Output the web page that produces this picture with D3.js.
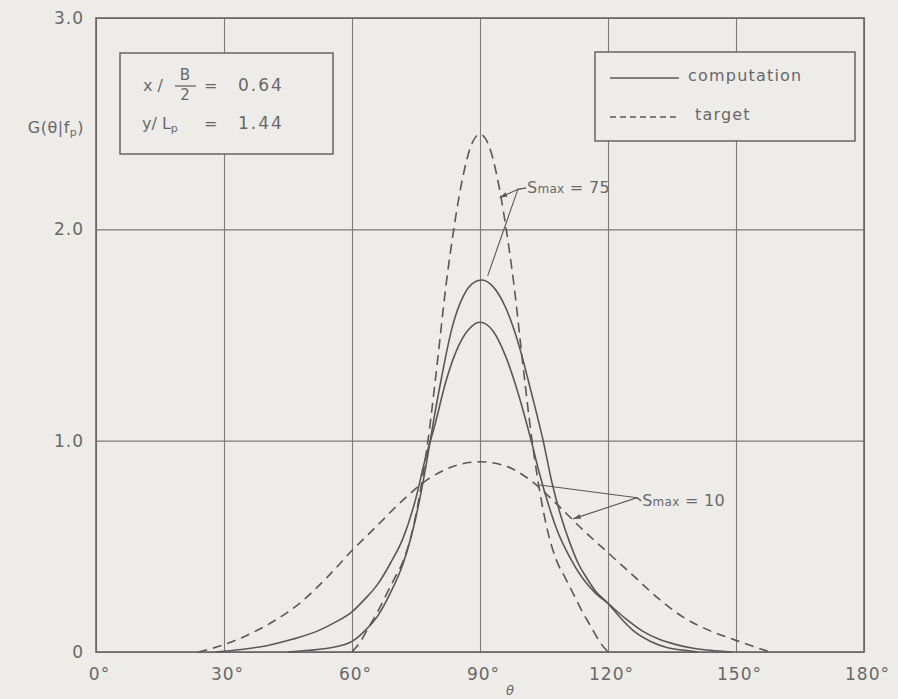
<!DOCTYPE html>
<html>
<head>
<meta charset="utf-8">
<script src="https://cdn.jsdelivr.net/npm/d3@7"></script>
<style>
  body { margin: 0; background: #eeece9; }
  svg { display: block; }
  text { font-family: "DejaVu Sans", sans-serif; fill: #686868; }
</style>
</head>
<body>
<svg id="chart" width="898" height="699"></svg>
<script>
// tick values
const thetaTicks = [0, 30, 60, 90, 120, 150, 180];
const gTicks = [0, 1, 2, 3];

// curves: [theta (deg), G]
const target75 = [[60,0],[62,0.05],[64,0.12],[66,0.19],[68,0.27],[70,0.35],[72,0.43],[74,0.56],[76,0.76],[78,1.03],[80,1.37],[82,1.73],[84,2.02],[86,2.25],[88,2.40],[90,2.45],
  [92,2.40],[94,2.25],[96,2.02],[98,1.73],[100,1.37],[102,1.03],[104,0.76],[106,0.56],[108,0.43],[110,0.35],[112,0.27],[114,0.19],[116,0.12],[118,0.05],[120,0]];
const target10 = [[24,0],[30,0.035],[36,0.085],[42,0.15],[48,0.235],[54,0.35],[60,0.48],[66,0.60],[72,0.72],[78,0.82],[84,0.88],[90,0.90],
  [96,0.88],[102,0.81],[108,0.70],[114,0.58],[120,0.47],[126,0.36],[132,0.25],[138,0.16],[144,0.10],[150,0.055],[155,0.02],[158,0]];
const comp75 = [[45,0],[50,0.008],[55,0.02],[60,0.05],[63,0.10],[66,0.17],[69,0.28],[72,0.42],[75,0.64],[77.5,0.90],[79,1.08],[81,1.30],[83.4,1.53],[86,1.68],[88,1.74],[90.5,1.76],
  [93,1.73],[96,1.63],[99,1.46],[102,1.23],[104.8,1.0],[107,0.79],[109,0.64],[111,0.52],[113,0.42],[115,0.35],[117,0.29],[120,0.23],[123,0.16],[126,0.10],[130,0.05],[134,0.02],[138,0.008],[141,0]];
const comp10 = [[28,0],[34,0.012],[40,0.03],[46,0.06],[52,0.10],[56,0.14],[60,0.19],[63,0.25],[66,0.32],[69,0.42],[72,0.54],[75,0.73],[77,0.90],[79.5,1.08],[82,1.28],[85,1.45],[88,1.54],[90,1.56],
  [93,1.52],[96,1.40],[99,1.22],[102,1.00],[104,0.84],[106,0.70],[108,0.58],[111,0.45],[114,0.35],[117,0.28],[120,0.23],[124,0.16],[128,0.10],[132,0.06],[136,0.035],[140,0.018],[144,0.008],[149,0]];

// annotation leaders: label anchor, knot, then line ends
const label75 = {text: 'Smax = 75', at: [101, 2.2], knot: [98.9, 2.19], ends: [[94.6, 2.15, true], [91.8, 1.78, false]]};
const label10 = {text: 'Smax = 10', at: [128.0, 0.72], knot: [126.8, 0.73], ends: [[104, 0.79, false], [111.8, 0.63, true]]};

const svg = d3.select('#chart');
const margin = {left: 96, right: 34, top: 18, bottom: 47};
const W = 898, H = 699;
const x = d3.scaleLinear().domain([0, 180]).range([margin.left, W - margin.right]);
const y = d3.scaleLinear().domain([0, 3]).range([H - margin.bottom, margin.top]);
const ink = '#585858';

svg.append('defs').append('marker')
    .attr('id', 'arrow')
    .attr('viewBox', '0 0 10 10')
    .attr('refX', 10).attr('refY', 5)
    .attr('markerWidth', 7).attr('markerHeight', 7)
    .attr('orient', 'auto')
  .append('path')
    .attr('d', 'M0,2 L10,5 L0,8 Z')
    .attr('fill', ink);

// grid + bottom axis
const xAxis = svg.append('g')
    .attr('transform', `translate(0,${y(0)})`)
    .call(d3.axisBottom(x).tickValues(thetaTicks)
        .tickSize(-(y(0) - y(3))).tickPadding(16)
        .tickFormat(d => d + '°'));
xAxis.select('.domain').remove();
xAxis.selectAll('line').attr('stroke', '#7a7a7a').attr('stroke-width', 1.1);
xAxis.selectAll('text').attr('font-size', 17).attr('dx', 3).attr('letter-spacing', 1).attr('fill', '#686868');

const yAxis = svg.append('g')
    .attr('transform', `translate(${x(0)},0)`)
    .call(d3.axisLeft(y).tickValues(gTicks)
        .tickSize(-(x(180) - x(0))).tickPadding(12)
        .tickFormat(d => d === 0 ? '0' : d3.format('.1f')(d)));
yAxis.select('.domain').remove();
yAxis.selectAll('line').attr('stroke', '#7a7a7a').attr('stroke-width', 1.1);
yAxis.selectAll('text').attr('font-size', 17).attr('letter-spacing', 1).attr('fill', '#686868');

// frame
svg.append('rect')
    .attr('x', x(0)).attr('y', y(3))
    .attr('width', x(180) - x(0)).attr('height', y(0) - y(3))
    .attr('fill', 'none').attr('stroke', '#666').attr('stroke-width', 1.6);

// axis titles
svg.append('text').attr('x', 84).attr('y', 133).attr('text-anchor', 'end')
    .attr('font-size', 16).attr('letter-spacing', 0.5)
    .html('G(θ|f<tspan font-size="11" dy="3">p</tspan><tspan dy="-3">)</tspan>');
svg.append('text').attr('x', 510).attr('y', 695).attr('text-anchor', 'middle')
    .attr('font-size', 13).attr('font-style', 'italic').text('θ');

// curves
const line = d3.line().x(d => x(d[0])).y(d => y(d[1])).curve(d3.curveMonotoneX);
const series = [
  {data: target10, dash: '9,6'},
  {data: target75, dash: '10,6'},
  {data: comp10, dash: null},
  {data: comp75, dash: null}
];
svg.append('g').selectAll('path').data(series).join('path')
    .attr('d', d => line(d.data))
    .attr('fill', 'none')
    .attr('stroke', ink)
    .attr('stroke-width', 1.6)
    .attr('stroke-dasharray', d => d.dash);

// Smax labels with leader lines
for (const lab of [label75, label10]) {
  const g = svg.append('g');
  for (const e of lab.ends) {
    g.append('path')
        .attr('d', `M${x(lab.at[0]) - 1},${y(lab.at[1]) + 1}L${x(lab.knot[0])},${y(lab.knot[1])}L${x(e[0])},${y(e[1])}`)
        .attr('fill', 'none').attr('stroke', ink).attr('stroke-width', 1.1)
        .attr('marker-end', e[2] ? 'url(#arrow)' : null);
  }
  g.append('text').attr('x', x(lab.at[0])).attr('y', y(lab.at[1]) + 6)
      .attr('font-size', 16).attr('letter-spacing', 0.3)
      .html(lab.text.replace('max', '<tspan font-size="12">max</tspan>'));
}

// parameter box
const pb = svg.append('g');
pb.append('rect').attr('x', 120).attr('y', 53).attr('width', 213).attr('height', 101)
    .attr('fill', '#eeece9').attr('stroke', '#666').attr('stroke-width', 1.5);
pb.append('text').attr('x', 143).attr('y', 91).attr('font-size', 16).text('x /');
pb.append('text').attr('x', 185).attr('y', 80).attr('font-size', 15).attr('text-anchor', 'middle').text('B');
pb.append('line').attr('x1', 175).attr('x2', 196).attr('y1', 86).attr('y2', 86).attr('stroke', '#666').attr('stroke-width', 1.3);
pb.append('text').attr('x', 185).attr('y', 100).attr('font-size', 15).attr('text-anchor', 'middle').text('2');
pb.append('text').attr('x', 204).attr('y', 91).attr('font-size', 16).text('=');
pb.append('text').attr('x', 238).attr('y', 91).attr('font-size', 17).attr('letter-spacing', 2).text('0.64');
pb.append('text').attr('x', 142).attr('y', 129).attr('font-size', 16)
    .html('y/ L<tspan font-size="11" dy="3">p</tspan>');
pb.append('text').attr('x', 204).attr('y', 129).attr('font-size', 16).text('=');
pb.append('text').attr('x', 238).attr('y', 129).attr('font-size', 17).attr('letter-spacing', 2).text('1.44');

// legend
const lg = svg.append('g');
lg.append('rect').attr('x', 595).attr('y', 52).attr('width', 260).attr('height', 89)
    .attr('fill', '#eeece9').attr('stroke', '#666').attr('stroke-width', 1.5);
const legendItems = [{label: 'computation', dash: null, yy: 78}, {label: 'target', dash: '6,4', yy: 117}];
lg.selectAll('line').data(legendItems).join('line')
    .attr('x1', 610).attr('x2', 679).attr('y1', d => d.yy).attr('y2', d => d.yy)
    .attr('stroke', ink).attr('stroke-width', 1.5).attr('stroke-dasharray', d => d.dash);
lg.selectAll('text').data(legendItems).join('text')
    .attr('x', (d, i) => i ? 695 : 688).attr('y', d => d.yy + 3)
    .attr('font-size', 16).attr('letter-spacing', 1.2).text(d => d.label);
</script>
</body>
</html>
